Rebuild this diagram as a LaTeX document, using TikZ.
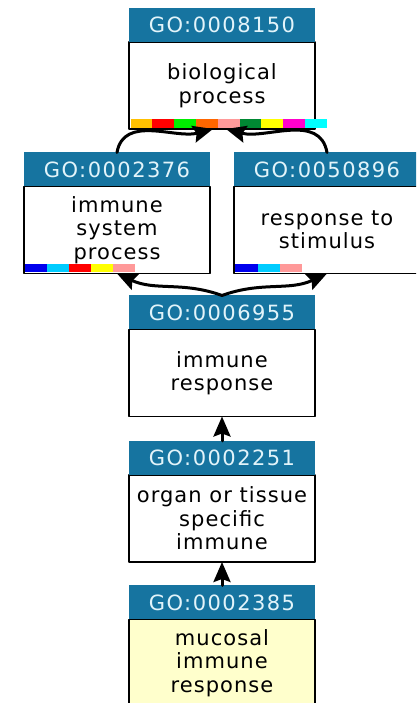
\documentclass[tikz,border=0pt]{standalone}
\usepackage{fontspec}
\setmainfont{DejaVu Sans}
\newfontfamily\headfont[LetterSpace=7]{DejaVu Sans}
\newfontfamily\bodyfont[LetterSpace=5]{DejaVu Sans}
\usetikzlibrary{positioning,arrows.meta}
\definecolor{hdblue}{RGB}{22,116,160}
\definecolor{hdtext}{RGB}{226,244,250}
\definecolor{qyellow}{RGB}{255,255,204}
\definecolor{cAmber}{RGB}{255,192,0}
\definecolor{cRed}{RGB}{255,0,0}
\definecolor{cLime}{RGB}{0,238,0}
\definecolor{cOrange}{RGB}{255,102,0}
\definecolor{cPink}{RGB}{255,153,153}
\definecolor{cGreen}{RGB}{0,136,51}
\definecolor{cYellow}{RGB}{255,255,0}
\definecolor{cMagenta}{RGB}{255,0,204}
\definecolor{cCyan}{RGB}{0,255,255}
\definecolor{cBlue}{RGB}{0,0,238}
\definecolor{cSky}{RGB}{0,204,255}
\tikzset{
	gohead/.style={fill=hdblue,text=hdtext,minimum width=186pt,minimum height=34pt,inner sep=0pt,outer sep=0pt,font=\headfont\fontsize{21}{24}\selectfont},
	gobody/.style={draw=black,line width=1.8pt,fill=white,minimum width=186pt,minimum height=87pt,inner sep=0pt,outer sep=0pt,align=center,font=\bodyfont\fontsize{21}{23.5}\selectfont},
	isa/.style={line width=3pt,-{Stealth[length=20pt,width=17pt,inset=3pt]}}
}

\begin{document}
\begin{tikzpicture}[line cap=round,line join=round,x=1pt,y=1pt]
		\useasboundingbox (0,0) rectangle (416,703);
		\clip (0,0) rectangle (416,703);
		\node[gobody] (bpb) at (222,617.5) {biological\\process};
		\node[gohead,above=0pt of bpb] (bph) {GO:0008150};
		\node[gobody] (isb) at (117,473) {immune\\system\\process};
		\node[gohead,above=0pt of isb] (ish) {GO:0002376};
		\node[gobody] (rsb) at (327,473) {response to\\stimulus};
		\node[gohead,above=0pt of rsb] (rsh) {GO:0050896};
		\node[gobody] (irb) at (222,330) {immune\\response};
		\node[gohead,above=0pt of irb] (irh) {GO:0006955};
		\node[gobody] (otb) at (222,184.5) {organ or tissue\\specific\\immune};
		\node[gohead,above=0pt of otb] (oth) {GO:0002251};
		\node[gobody,fill=qyellow] (mib) at (222,40) {mucosal\\immune\\response};
		\node[gohead,above=0pt of mib] (mih) {GO:0002385};
		\foreach \c [count=\i from 0] in {cAmber,cRed,cLime,cOrange,cPink,cGreen,cYellow,cMagenta,cCyan}
			\fill[\c] ([xshift={1.5pt+\i*21.8pt},yshift=1.3pt]bpb.south west) rectangle ++(21.8,8.4);
		\foreach \c [count=\i from 0] in {cBlue,cSky,cRed,cYellow,cPink}
			\fill[\c] ([xshift={1.2pt+\i*21.9pt},yshift=1.3pt]isb.south west) rectangle ++(21.9,8.4);
		\foreach \c [count=\i from 0] in {cBlue,cSky,cPink}
			\fill[\c] ([xshift={1.2pt+\i*22.4pt},yshift=1.3pt]rsb.south west) rectangle ++(22.4,8.4);
		\draw[isa] (ish.north) to[out=80,in=-165] ([xshift=-9pt]bpb.south);
		\draw[isa] (rsh.north) to[out=100,in=-15] ([xshift=4pt]bpb.south);
		\draw[isa] (irh.north) to[out=160,in=-25] (isb.south);
		\draw[isa] (irh.north) to[out=20,in=-155] (rsb.south);
		\draw[isa] (oth.north) -- (irb.south);
		\draw[isa] (mih.north) -- (otb.south);
	\end{tikzpicture}
\end{document}
